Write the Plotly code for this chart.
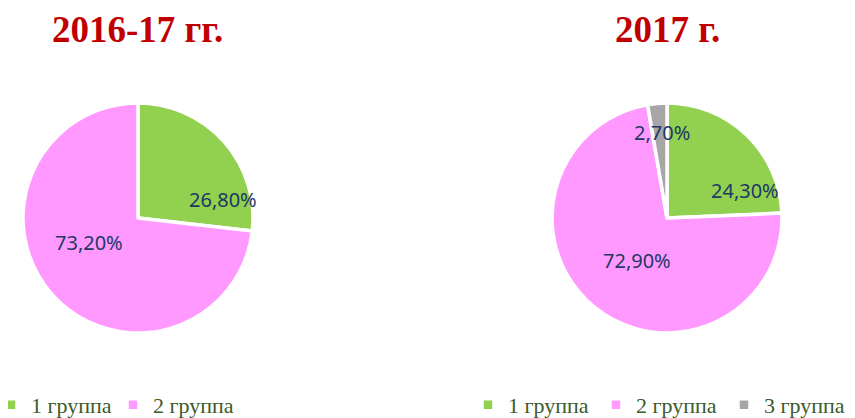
import plotly.graph_objects as go

labels1 = ["1 группа", "2 группа"]
values1 = [26.8, 73.2]
# zero-width space keeps the second chart's legend entries separate
labels2 = ["1 группа\u200b", "2 группа\u200b", "3 группа\u200b"]
values2 = [24.3, 72.9, 2.7]
titles = ["2016-17 гг.", "2017 г."]
colors = ["#92D050", "#FF99FF", "#A6A6A6"]

# label centres in page pixels (Excel "best fit" placement)
label_pos1 = [(223, 199), (89, 243)]
label_pos2 = [(745, 191), (637, 260), (662, 132)]

OFF = 8  # default body margin of the html page
W, H = 855 - OFF, 418 - OFF


def fx(px):
    return (px - OFF) / W


def fy(py):
    return 1 - (py - OFF) / H


label_font = dict(family="Noto Sans, Open Sans, sans-serif", size=20, color="#1F3864")
legend_font = dict(family="Liberation Serif, Times New Roman, serif", size=22, color="#3B5B2A")
title_font = dict(family="Liberation Serif, Times New Roman, serif", size=37, color="#C00000")


def fmt(v):
    return f"{v:.2f}%".replace(".", ",")


fig = go.Figure()
fig.add_trace(go.Pie(
    labels=labels1, values=values1, sort=False, direction="clockwise", rotation=0,
    marker=dict(colors=colors[:2], line=dict(color="white", width=3.5)),
    textinfo="none", hoverinfo="label+value",
    domain=dict(x=[fx(23), fx(253)], y=[fy(333), fy(103)]),
    legend="legend", showlegend=True,
))
fig.add_trace(go.Pie(
    labels=labels2, values=values2, sort=False, direction="clockwise", rotation=0,
    marker=dict(colors=colors, line=dict(color="white", width=3.5)),
    textinfo="none", hoverinfo="label+value",
    domain=dict(x=[fx(552), fx(782)], y=[fy(333), fy(103)]),
    legend="legend2", showlegend=True,
))

annotations = [
    dict(text=f"<b>{titles[0]}</b>", x=fx(137), y=fy(29), xref="paper", yref="paper",
         xanchor="center", yanchor="middle", showarrow=False, font=title_font),
    dict(text=f"<b>{titles[1]}</b>", x=fx(667), y=fy(29), xref="paper", yref="paper",
         xanchor="center", yanchor="middle", showarrow=False, font=title_font),
]
for v, (px, py) in zip(values1, label_pos1):
    annotations.append(dict(text=fmt(v), x=fx(px), y=fy(py), xref="paper", yref="paper",
                            xanchor="center", yanchor="middle", showarrow=False, font=label_font))
for v, (px, py) in zip(values2, label_pos2):
    annotations.append(dict(text=fmt(v), x=fx(px), y=fy(py), xref="paper", yref="paper",
                            xanchor="center", yanchor="middle", showarrow=False, font=label_font))

fig.update_layout(
    width=W, height=H, margin=dict(l=0, r=0, t=0, b=0, autoexpand=False),
    paper_bgcolor="white", plot_bgcolor="white",
    annotations=annotations,
    legend=dict(orientation="h", x=-17 / W, y=fy(405), xanchor="left", yanchor="middle",
                font=legend_font, entrywidth=77, entrywidthmode="pixels",
                bgcolor="rgba(0,0,0,0)"),
    legend2=dict(orientation="h", x=460 / W, y=fy(405), xanchor="left", yanchor="middle",
                 font=legend_font, entrywidth=83, entrywidthmode="pixels",
                 bgcolor="rgba(0,0,0,0)"),
)

fig.write_html("out.html")
